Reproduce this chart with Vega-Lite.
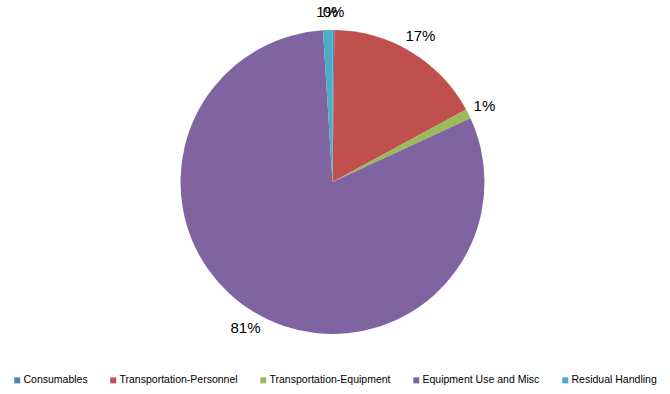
{
  "$schema": "https://vega.github.io/schema/vega-lite/v6.json",
  "width": 665,
  "height": 364,
  "autosize": {"type": "none"},
  "padding": {"left": 0, "top": 0, "right": 5, "bottom": 30},
  "background": "white",
  "config": {"view": {"stroke": null}, "font": "Liberation Sans"},
  "data": {
    "values": [
      {"category": "Consumables", "value": 0.2, "label": "0%", "ord": 1},
      {"category": "Transportation-Personnel", "value": 16.9, "label": "17%", "ord": 2},
      {"category": "Transportation-Equipment", "value": 1.0, "label": "1%", "ord": 3},
      {"category": "Equipment Use and Misc", "value": 80.9, "label": "81%", "ord": 4},
      {"category": "Residual Handling", "value": 1.0, "label": "1%", "ord": 5}
    ]
  },
  "encoding": {
    "theta": {"field": "value", "type": "quantitative", "stack": true},
    "order": {"field": "ord", "type": "quantitative"}
  },
  "layer": [
    {
      "mark": {"type": "arc", "outerRadius": 152},
      "encoding": {
        "color": {
          "field": "category",
          "type": "nominal",
          "scale": {
            "domain": ["Consumables", "Transportation-Personnel", "Transportation-Equipment", "Equipment Use and Misc", "Residual Handling"],
            "range": ["#4F81BD", "#C0504D", "#9BBB59", "#8064A2", "#4BACC6"]
          },
          "legend": {
            "title": null,
            "orient": "none",
            "direction": "horizontal",
            "columns": 5,
            "legendX": 12,
            "legendY": 375,
            "symbolType": "square",
            "symbolSize": 36,
            "symbolStrokeWidth": 0,
            "symbolOpacity": 1,
            "labelFontSize": 10.5,
            "labelFont": "Liberation Sans",
            "labelColor": "#000000",
            "labelOffset": 1,
            "columnPadding": 20,
            "labelLimit": 300
          }
        }
      }
    },
    {
      "mark": {"type": "text", "radius": 170, "fontSize": 15, "font": "Liberation Sans", "color": "#000000"},
      "encoding": {
        "text": {"field": "label", "type": "nominal"}
      }
    }
  ]
}
